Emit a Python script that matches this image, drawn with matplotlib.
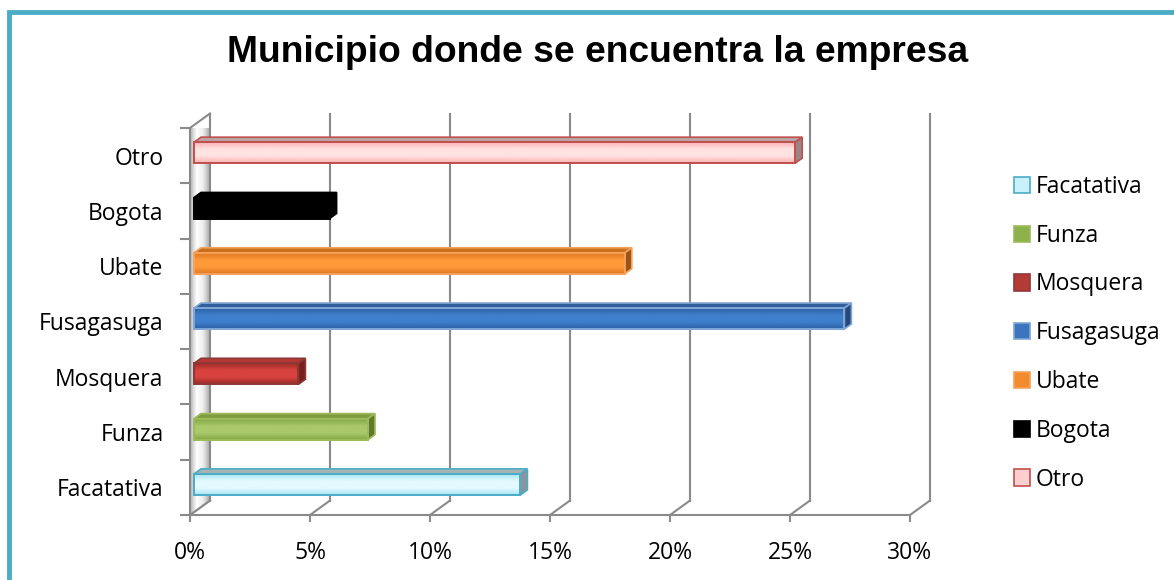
import matplotlib
matplotlib.use("Agg")
import matplotlib.pyplot as plt
import numpy as np
from matplotlib.colors import LinearSegmentedColormap
from matplotlib.patches import Polygon, Rectangle, Patch

# data (bottom to top as drawn)
categories = ["Facatativa", "Funza", "Mosquera", "Fusagasuga", "Ubate", "Bogota", "Otro"]
values = [13.6, 7.25, 4.35, 27.1, 17.95, 5.65, 25.05]
x_ticks = [0, 5, 10, 15, 20, 25, 30]
x_tick_labels = ["0%", "5%", "10%", "15%", "20%", "25%", "30%"]
title = "Municipio donde se encuentra la empresa"

# colours: (front light, front dark, edge, top face, end face)
styles = {
    "Facatativa": ("#e4faff", "#a9e6f4", "#4bacc6", "#a8b1b4", "#8d9598"),
    "Funza": ("#a9c96a", "#86a845", "#9bbb59", "#7f9c3f", "#5f7a2c"),
    "Mosquera": ("#d9433f", "#9c2a27", "#8c3836", "#b53632", "#7a1f1d"),
    "Fusagasuga": ("#3f7fcc", "#2d61a6", "#7fa6d6", "#305f9b", "#254a7a"),
    "Ubate": ("#ff9a3a", "#df7720", "#f6a15b", "#c9701f", "#9a5515"),
    "Bogota": ("#000000", "#000000", "#000000", "#000000", "#000000"),
    "Otro": ("#ffe2e2", "#ffb3b3", "#c0504d", "#b9a3a3", "#9b8585"),
}
legend_fill = {
    "Facatativa": "#c9f1fb", "Funza": "#8db24c", "Mosquera": "#b33a37",
    "Fusagasuga": "#3c74bd", "Ubate": "#f28a2e", "Bogota": "#000000", "Otro": "#ffcfcf",
}

W, H = 1174, 580
FONT = ["Open Sans", "DejaVu Sans"]
FS = 16.5
plt.rcParams["font.family"] = FONT

fig = plt.figure(figsize=(W / 100, H / 100), dpi=100)
fig.patch.set_facecolor("white")

# front plane of the 3d box
ax = fig.add_axes([190 / W, (H - 515) / H, 720 / W, (515 - 128) / H])
ax.set_xlim(0, 30)
ax.set_ylim(-0.5, len(categories) - 0.5)
ax.patch.set_alpha(0)

px_x = 30 / 720.0
px_y = len(categories) / (515 - 128.0)
DX = 20 * px_x   # depth shift in x units
DY = 14.5 * px_y  # depth shift in y units
grid_c = "#8a8a8a"
ylo, yhi = -0.5, len(categories) - 0.5

# side wall
wall = Polygon([(0, ylo), (0, yhi), (DX, yhi + DY), (DX, ylo + DY)],
               closed=True, facecolor="#e6e6e6", edgecolor=grid_c, lw=1.4, zorder=1)
ax.add_patch(wall)
grad = np.linspace(0, 1, 50).reshape(1, -1)
wcm = LinearSegmentedColormap.from_list("wall", ["#b5b5b5", "#ffffff", "#ececec", "#a8a8a8"])
im = ax.imshow(grad, extent=(0, DX, ylo, yhi + DY), cmap=wcm, aspect="auto", zorder=1.1)
im.set_clip_path(wall)

# back gridlines and floor
for t in x_ticks:
    ax.plot([t + DX, t + DX], [ylo + DY, yhi + DY], color=grid_c, lw=1.5, zorder=1.5, clip_on=False)
    ax.plot([t, t + DX], [ylo, ylo + DY], color=grid_c, lw=1.5, zorder=1.5, clip_on=False)
ax.plot([0, 0], [ylo, yhi], color=grid_c, lw=1.5, zorder=2, clip_on=False)
ax.plot([0, DX], [yhi, yhi + DY], color=grid_c, lw=1.5, zorder=2, clip_on=False)

# bars
f0, f1 = 0.2, 0.55
bh = 21 * px_y
for i, (cat, val) in enumerate(zip(categories, values)):
    light, dark, edge, top_c, end_c = styles[cat]
    x0 = f0 * DX
    yc = i + f0 * DY
    y0, y1 = yc - bh / 2, yc + bh / 2
    x1 = x0 + val
    ddx, ddy = (f1 - f0) * DX, (f1 - f0) * DY
    top = Polygon([(x0, y1), (x1, y1), (x1 + ddx, y1 + ddy), (x0 + ddx, y1 + ddy)],
                  closed=True, facecolor=top_c, edgecolor=edge, lw=1.2, zorder=3)
    end = Polygon([(x1, y0), (x1, y1), (x1 + ddx, y1 + ddy), (x1 + ddx, y0 + ddy)],
                  closed=True, facecolor=end_c, edgecolor=edge, lw=1.2, zorder=3)
    ax.add_patch(top)
    ax.add_patch(end)
    bar = ax.barh(yc, val, height=bh, left=x0, color=light, edgecolor=edge, lw=1.4, zorder=4)[0]
    cm = LinearSegmentedColormap.from_list(cat, [dark, light, light, dark])
    g = np.linspace(0, 1, 40).reshape(-1, 1)
    gi = ax.imshow(g, extent=(x0, x1, y0, y1), cmap=cm, aspect="auto", zorder=3.5)
    gi.set_clip_path(bar)
    bar.set_facecolor("none")

ax.set_xlim(0, 30)
ax.set_ylim(ylo, yhi)

# axes, ticks and labels
for s in ["top", "right", "left"]:
    ax.spines[s].set_visible(False)
ax.spines["bottom"].set_color(grid_c)
ax.spines["bottom"].set_linewidth(1.5)
ax.set_xticks(x_ticks)
ax.set_xticklabels(x_tick_labels, fontsize=FS)
ax.tick_params(axis="x", length=5, width=1.5, color=grid_c, pad=14)
ax.set_yticks(np.arange(len(categories) + 1) - 0.5)
ax.set_yticklabels([])
ax.tick_params(axis="y", length=7, width=1.5, color=grid_c)
ax.set_yticks(np.arange(len(categories)), minor=True)
ax.set_yticklabels(categories, minor=True, fontsize=FS)
ax.tick_params(axis="y", which="minor", length=0, pad=19)

fig.text(598 / W, 1 - 53 / H, title, ha="center", va="center", fontsize=26.8,
         fontweight="bold", family=["Liberation Sans", "DejaVu Sans"])

# legend (top to bottom: Facatativa .. Otro)
handles = [Patch(facecolor=legend_fill[c], edgecolor=styles[c][2], lw=1.2) for c in categories]
fig.legend(handles, categories, loc="upper left", bbox_to_anchor=(1014 / W, 1 - 175 / H),
           frameon=False, fontsize=FS, handlelength=0.7, handleheight=0.7,
           handletextpad=0.26, labelspacing=1.08, borderpad=0, borderaxespad=0)

# teal frame
fig.add_artist(Rectangle((8.5 / W, -0.1), 1.2, (H - 11.5) / H + 0.1, transform=fig.transFigure,
                         fill=False, edgecolor="#4bacc6", lw=3.5))

fig.savefig("out.png", dpi=100)
